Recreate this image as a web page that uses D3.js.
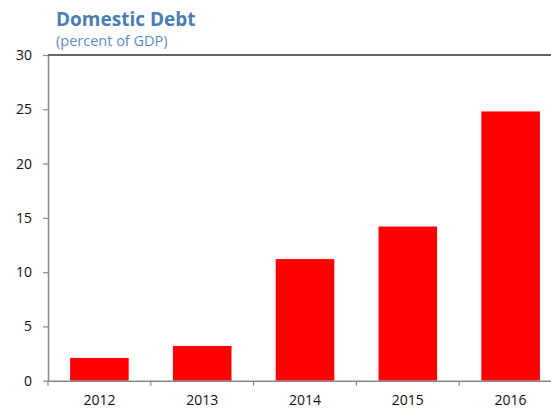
<!DOCTYPE html>
<html>
<head>
<meta charset="utf-8">
<script src="https://cdnjs.cloudflare.com/ajax/libs/d3/7.8.5/d3.min.js"></script>
<style>
  html, body { margin: 0; padding: 0; background: #fff; }
  svg { display: block; }
</style>
</head>
<body>
<svg id="chart" width="551" height="408"></svg>
<script>
// Domestic debt, percent of GDP
const years = ["2012", "2013", "2014", "2015", "2016"];
const debt = [2.1, 3.2, 11.2, 14.2, 24.8];
const yTicks = [0, 5, 10, 15, 20, 25, 30];

const svg = d3.select("#chart");
const font = "'Open Sans', 'Noto Sans', sans-serif";

const plotLeft = 48, plotRight = 562, plotTop = 55, plotBottom = 380.7;

const x = d3.scaleBand().domain(years).range([plotLeft, plotRight]).paddingInner(0.43).paddingOuter(0.215);
const xEdges = d3.scaleBand().domain(years).range([plotLeft, plotRight]).padding(0);
const y = d3.scaleLinear().domain([0, 30]).range([plotBottom, plotTop]);

// Title
svg.append("text").attr("x", 56).attr("y", 26)
  .attr("font-family", font).attr("font-weight", 700).attr("font-size", 19)
  .attr("fill", "#4a7db0").text("Domestic Debt");
svg.append("text").attr("x", 56).attr("y", 46)
  .attr("font-family", font).attr("font-size", 14.5)
  .attr("fill", "#5b8ec4").text("(percent of GDP)");

// Bars
svg.append("g").selectAll("rect").data(years).join("rect")
  .attr("x", d => x(d))
  .attr("width", x.bandwidth())
  .attr("y", (d, i) => y(debt[i]))
  .attr("height", (d, i) => y(0) - y(debt[i]))
  .attr("fill", "#ff0000");

// Top frame line
svg.append("line").attr("x1", plotLeft).attr("x2", 551).attr("y1", y(30)).attr("y2", y(30))
  .attr("stroke", "#333").attr("stroke-width", 1.5);

// Y axis
const yAxis = d3.axisLeft(y).tickValues(yTicks).tickSize(5).tickPadding(11).tickSizeOuter(0);
const gy = svg.append("g").attr("transform", `translate(${plotLeft},0)`).call(yAxis);
gy.select(".domain").attr("stroke", "#888").attr("stroke-width", 1.5);
gy.selectAll(".tick line").attr("stroke", "#888").attr("stroke-width", 1.2);
gy.selectAll(".tick text").attr("font-family", font).attr("font-size", 14).attr("fill", "#111");

// X axis: category labels centred, ticks at band edges
const xAxis = d3.axisBottom(x).tickSize(0).tickPadding(14).tickSizeOuter(0);
const gx = svg.append("g").attr("transform", `translate(0,${plotBottom})`).call(xAxis);
gx.select(".domain").attr("stroke", "#888").attr("stroke-width", 1.5);
gx.selectAll(".tick text").attr("font-family", font).attr("font-size", 14).attr("fill", "#111");
gx.append("g").selectAll("line").data(years).join("line")
  .attr("x1", d => xEdges(d)).attr("x2", d => xEdges(d))
  .attr("y1", 0).attr("y2", 5)
  .attr("stroke", "#888").attr("stroke-width", 1.2);
</script>
</body>
</html>
